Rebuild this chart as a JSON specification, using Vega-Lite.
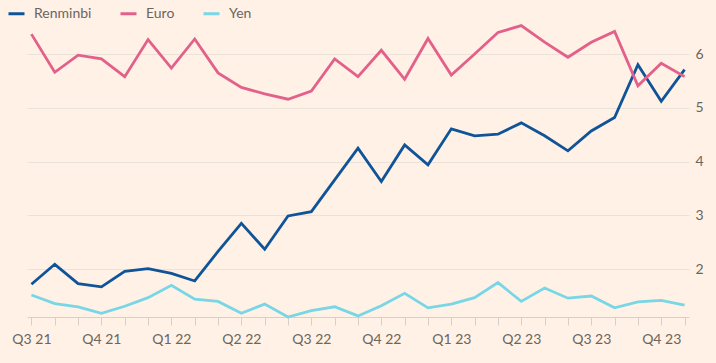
{
  "$schema": "https://vega.github.io/schema/vega-lite/v6.json",
  "width": 662,
  "height": 292,
  "autosize": "none",
  "padding": {"left": 27, "top": 25, "right": 27, "bottom": 46},
  "background": "#fff1e5",
  "config": {
    "view": {"stroke": null},
    "font": "Lato"
  },
  "datasets": {
    "fx": [
      {"m": "2021-07", "c": "Renminbi", "v": 1.72}, {"m": "2021-07", "c": "Euro", "v": 6.37}, {"m": "2021-07", "c": "Yen", "v": 1.52},
      {"m": "2021-08", "c": "Renminbi", "v": 2.09}, {"m": "2021-08", "c": "Euro", "v": 5.66}, {"m": "2021-08", "c": "Yen", "v": 1.36},
      {"m": "2021-09", "c": "Renminbi", "v": 1.73}, {"m": "2021-09", "c": "Euro", "v": 5.98}, {"m": "2021-09", "c": "Yen", "v": 1.30},
      {"m": "2021-10", "c": "Renminbi", "v": 1.67}, {"m": "2021-10", "c": "Euro", "v": 5.91}, {"m": "2021-10", "c": "Yen", "v": 1.18},
      {"m": "2021-11", "c": "Renminbi", "v": 1.96}, {"m": "2021-11", "c": "Euro", "v": 5.58}, {"m": "2021-11", "c": "Yen", "v": 1.31},
      {"m": "2021-12", "c": "Renminbi", "v": 2.01}, {"m": "2021-12", "c": "Euro", "v": 6.27}, {"m": "2021-12", "c": "Yen", "v": 1.47},
      {"m": "2022-01", "c": "Renminbi", "v": 1.92}, {"m": "2022-01", "c": "Euro", "v": 5.74}, {"m": "2022-01", "c": "Yen", "v": 1.70},
      {"m": "2022-02", "c": "Renminbi", "v": 1.78}, {"m": "2022-02", "c": "Euro", "v": 6.28}, {"m": "2022-02", "c": "Yen", "v": 1.44},
      {"m": "2022-03", "c": "Renminbi", "v": 2.33}, {"m": "2022-03", "c": "Euro", "v": 5.65}, {"m": "2022-03", "c": "Yen", "v": 1.40},
      {"m": "2022-04", "c": "Renminbi", "v": 2.85}, {"m": "2022-04", "c": "Euro", "v": 5.38}, {"m": "2022-04", "c": "Yen", "v": 1.18},
      {"m": "2022-05", "c": "Renminbi", "v": 2.37}, {"m": "2022-05", "c": "Euro", "v": 5.26}, {"m": "2022-05", "c": "Yen", "v": 1.35},
      {"m": "2022-06", "c": "Renminbi", "v": 2.99}, {"m": "2022-06", "c": "Euro", "v": 5.16}, {"m": "2022-06", "c": "Yen", "v": 1.11},
      {"m": "2022-07", "c": "Renminbi", "v": 3.07}, {"m": "2022-07", "c": "Euro", "v": 5.31}, {"m": "2022-07", "c": "Yen", "v": 1.23},
      {"m": "2022-08", "c": "Renminbi", "v": 3.66}, {"m": "2022-08", "c": "Euro", "v": 5.91}, {"m": "2022-08", "c": "Yen", "v": 1.30},
      {"m": "2022-09", "c": "Renminbi", "v": 4.25}, {"m": "2022-09", "c": "Euro", "v": 5.58}, {"m": "2022-09", "c": "Yen", "v": 1.13},
      {"m": "2022-10", "c": "Renminbi", "v": 3.63}, {"m": "2022-10", "c": "Euro", "v": 6.07}, {"m": "2022-10", "c": "Yen", "v": 1.32},
      {"m": "2022-11", "c": "Renminbi", "v": 4.31}, {"m": "2022-11", "c": "Euro", "v": 5.53}, {"m": "2022-11", "c": "Yen", "v": 1.55},
      {"m": "2022-12", "c": "Renminbi", "v": 3.94}, {"m": "2022-12", "c": "Euro", "v": 6.29}, {"m": "2022-12", "c": "Yen", "v": 1.28},
      {"m": "2023-01", "c": "Renminbi", "v": 4.61}, {"m": "2023-01", "c": "Euro", "v": 5.61}, {"m": "2023-01", "c": "Yen", "v": 1.35},
      {"m": "2023-02", "c": "Renminbi", "v": 4.48}, {"m": "2023-02", "c": "Euro", "v": 6.00}, {"m": "2023-02", "c": "Yen", "v": 1.47},
      {"m": "2023-03", "c": "Renminbi", "v": 4.51}, {"m": "2023-03", "c": "Euro", "v": 6.40}, {"m": "2023-03", "c": "Yen", "v": 1.75},
      {"m": "2023-04", "c": "Renminbi", "v": 4.72}, {"m": "2023-04", "c": "Euro", "v": 6.53}, {"m": "2023-04", "c": "Yen", "v": 1.40},
      {"m": "2023-05", "c": "Renminbi", "v": 4.48}, {"m": "2023-05", "c": "Euro", "v": 6.22}, {"m": "2023-05", "c": "Yen", "v": 1.65},
      {"m": "2023-06", "c": "Renminbi", "v": 4.20}, {"m": "2023-06", "c": "Euro", "v": 5.94}, {"m": "2023-06", "c": "Yen", "v": 1.46},
      {"m": "2023-07", "c": "Renminbi", "v": 4.57}, {"m": "2023-07", "c": "Euro", "v": 6.22}, {"m": "2023-07", "c": "Yen", "v": 1.50},
      {"m": "2023-08", "c": "Renminbi", "v": 4.82}, {"m": "2023-08", "c": "Euro", "v": 6.42}, {"m": "2023-08", "c": "Yen", "v": 1.28},
      {"m": "2023-09", "c": "Renminbi", "v": 5.80}, {"m": "2023-09", "c": "Euro", "v": 5.41}, {"m": "2023-09", "c": "Yen", "v": 1.39},
      {"m": "2023-10", "c": "Renminbi", "v": 5.12}, {"m": "2023-10", "c": "Euro", "v": 5.83}, {"m": "2023-10", "c": "Yen", "v": 1.42},
      {"m": "2023-11", "c": "Renminbi", "v": 5.71}, {"m": "2023-11", "c": "Euro", "v": 5.58}, {"m": "2023-11", "c": "Yen", "v": 1.33}
    ]
  },
  "data": {"name": "fx"},
  "mark": {"type": "line", "strokeWidth": 2.8, "strokeJoin": "miter", "strokeCap": "butt"},
  "encoding": {
    "x": {
      "field": "m",
      "type": "ordinal",
      "scale": {"type": "point", "padding": 0.19},
      "axis": {
        "title": null,
        "labelAngle": 0,
        "labelExpr": "(toNumber(substring(datum.value,5,7)) % 3 == 1) ? 'Q' + (floor((toNumber(substring(datum.value,5,7)) - 1) / 3) + 1) + ' ' + substring(datum.value,2,4) : ''",
        "labelFont": "Lato",
        "labelFontSize": 14,
        "labelColor": "#6b6560",
        "labelPadding": 7,
        "domainColor": "#d9cfc6",
        "domainWidth": 1,
        "tickColor": "#d9cfc6",
        "tickSize": 8,
        "tickWidth": 1,
        "grid": false
      }
    },
    "y": {
      "field": "v",
      "type": "quantitative",
      "scale": {"domain": [1.11, 6.54], "nice": false, "zero": false},
      "axis": {
        "orient": "right",
        "title": null,
        "values": [2, 3, 4, 5, 6],
        "domain": false,
        "ticks": false,
        "labelPadding": 6,
        "labelFont": "Lato",
        "labelFontSize": 14,
        "labelColor": "#6b6560",
        "gridColor": "#ebe2d9",
        "gridWidth": 1
      }
    },
    "color": {
      "field": "c",
      "type": "nominal",
      "scale": {"domain": ["Renminbi", "Euro", "Yen"], "range": ["#0f5499", "#e3608b", "#78d6e6"]},
      "legend": {
        "title": null,
        "orient": "none",
        "legendX": -20,
        "legendY": -21,
        "padding": 0,
        "direction": "horizontal",
        "symbolType": "stroke",
        "symbolSize": 256,
        "symbolStrokeWidth": 3,
        "labelFont": "Lato",
        "labelFontSize": 14,
        "labelColor": "#6b6560",
        "labelOffset": 8,
        "columnPadding": 22
      }
    }
  }
}
